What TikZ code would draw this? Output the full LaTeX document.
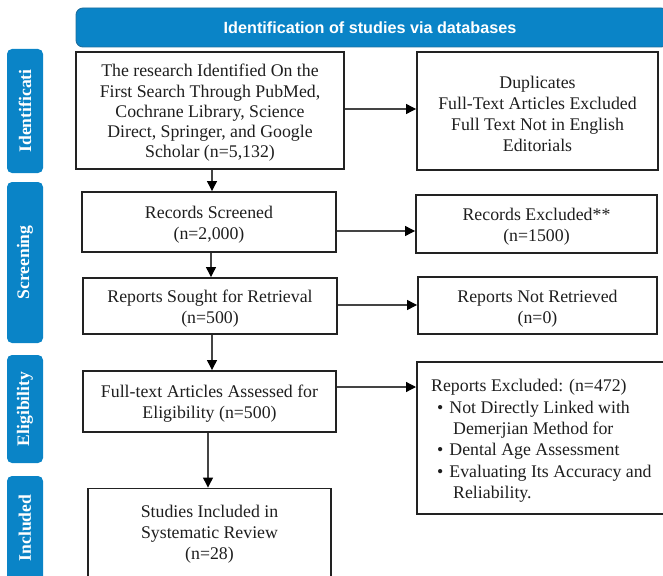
\documentclass[tikz,border=0pt]{standalone}
\usepackage{fontspec}
\setmainfont{Liberation Serif}
\newfontfamily\hdrfont{Liberation Sans}
\usetikzlibrary{arrows.meta,calc}
\definecolor{prismablue}{HTML}{0A84C7}
\definecolor{prismaedge}{HTML}{1D6E9E}
\definecolor{boxtext}{HTML}{1E1E1E}
\definecolor{boxedge}{HTML}{222222}
\definecolor{arrline}{HTML}{444444}
\tikzset{
  stagebox/.style={draw=boxedge, line width=1.9pt, rectangle, inner sep=0pt},
  stagetext/.style={align=center, text=boxtext, inner sep=0pt,
    font=\fontsize{17.8}{21}\selectfont},
  sidelabel/.style={fill=prismablue, rounded corners=5pt, minimum width=36pt, inner sep=0pt},
  sidetext/.style={text=white, font=\bfseries\fontsize{17.6}{20}\selectfont, rotate=90},
  flow/.style={draw=arrline, line width=1.2pt, -{Triangle[length=10pt,width=10pt,fill=black,color=black]}},
}
\begin{document}
\begin{tikzpicture}[x=1pt,y=-1pt]
\useasboundingbox (0,0) rectangle (663,575);
\clip (0,0) rectangle (663,575);

% header
\node[fill=prismablue, draw=prismaedge, line width=0.9pt, rounded corners=7pt,
      minimum width=592pt, minimum height=39pt, inner sep=0pt] (hdr) at (372,27.5) {};
\node[text=white, font=\hdrfont\bfseries\fontsize{16.2}{18}\selectfont] (hdrtxt) at (370,28) {Identification of studies via databases};

% side labels
\node[sidelabel, minimum height=124pt] (lid) at (25,111) {};
\node[sidetext] (lidt) at (lid.center) {Identificati};
\node[sidelabel, minimum height=161pt] (lsc) at (25,262.5) {};
\node[sidetext] (lsct) at (lsc.center) {Screening};
\node[sidelabel, minimum height=108pt] (lel) at (25,409) {};
\node[sidetext] (lelt) at (lel.center) {Eligibility};
\node[sidelabel, minimum height=112pt] (lin) at (25,532) {};
\node[sidetext] (lint) at (25,528) {Included};

% main column
\node[stagebox, minimum width=268pt, minimum height=117pt] (b1) at (210,110.5) {};
\node[stagetext, font=\fontsize{17.8}{20.3}\selectfont] (b1t) at (210,113)
  {The research Identified On the\\First Search Through PubMed,\\Cochrane Library, Science\\Direct, Springer, and Google\\Scholar (n=5,132)};
\node[stagebox, minimum width=254pt, minimum height=60pt] (b2) at (209,222) {};
\node[stagetext] (b2t) at (209,224.5) {Records Screened\\(n=2,000)};
\node[stagebox, minimum width=254pt, minimum height=56pt] (b3) at (210,306) {};
\node[stagetext] (b3t) at (210,308.5) {Reports Sought for Retrieval\\(n=500)};
\node[stagebox, minimum width=253pt, minimum height=61pt] (b4) at (209.5,401.5) {};
\node[stagetext] (b4t) at (209.5,403.5) {Full-text Articles Assessed for\\Eligibility (n=500)};
\node[stagebox, minimum width=243pt, minimum height=89pt] (b6) at (209.5,533) {};
\node[stagetext] (b6t) at (209.5,534.5) {Studies Included in\\Systematic Review\\(n=28)};

% right column
\node[stagebox, minimum width=241pt, minimum height=118pt] (dup) at (537.5,111) {};
\node[stagetext] (dupt) at (537.5,113.5)
  {Duplicates\\Full-Text Articles Excluded\\Full Text Not in English\\Editorials};
\node[stagebox, minimum width=241pt, minimum height=58pt] (rex) at (536.5,224) {};
\node[stagetext] (rext) at (536.5,226.5) {Records Excluded**\\(n=1500)};
\node[stagebox, minimum width=239pt, minimum height=57pt] (rnr) at (537.5,305.5) {};
\node[stagetext] (rnrt) at (537.5,308.5) {Reports Not Retrieved\\(n=0)};
\node[stagebox, minimum width=254pt, minimum height=152pt, anchor=west] (b5) at (416,438) {};
\node[stagetext, align=left, anchor=west, font=\fontsize{17.8}{21.4}\selectfont] (b5t) at (431,441)
  {Reports Excluded: (n=472)\\
   \hspace*{6pt}\textbullet\hspace{6pt}Not Directly Linked with\\
   \hspace*{22pt}Demerjian Method for\\
   \hspace*{6pt}\textbullet\hspace{6pt}Dental Age Assessment\\
   \hspace*{6pt}\textbullet\hspace{6pt}Evaluating Its Accuracy and\\
   \hspace*{22pt}Reliability.};

% connectors
\draw[flow] (b1.south -| 212,0) -- (b2.north -| 212,0);
\draw[flow] (b2.south -| 211,0) -- (b3.north -| 211,0);
\draw[flow] (b3.south -| 212,0) -- (b4.north -| 212,0);
\draw[flow] (b4.south -| 208,0) -- (b6.north -| 208,0);
\draw[flow] (b1.east |- 0,109) -- (dup.west |- 0,109);
\draw[flow] (b2.east |- 0,231) -- (rex.west |- 0,231);
\draw[flow] (b3.east |- 0,305) -- (rnr.west |- 0,305);
\draw[flow] (b4.east |- 0,387) -- (b5.west |- 0,387);
\end{tikzpicture}
\end{document}
